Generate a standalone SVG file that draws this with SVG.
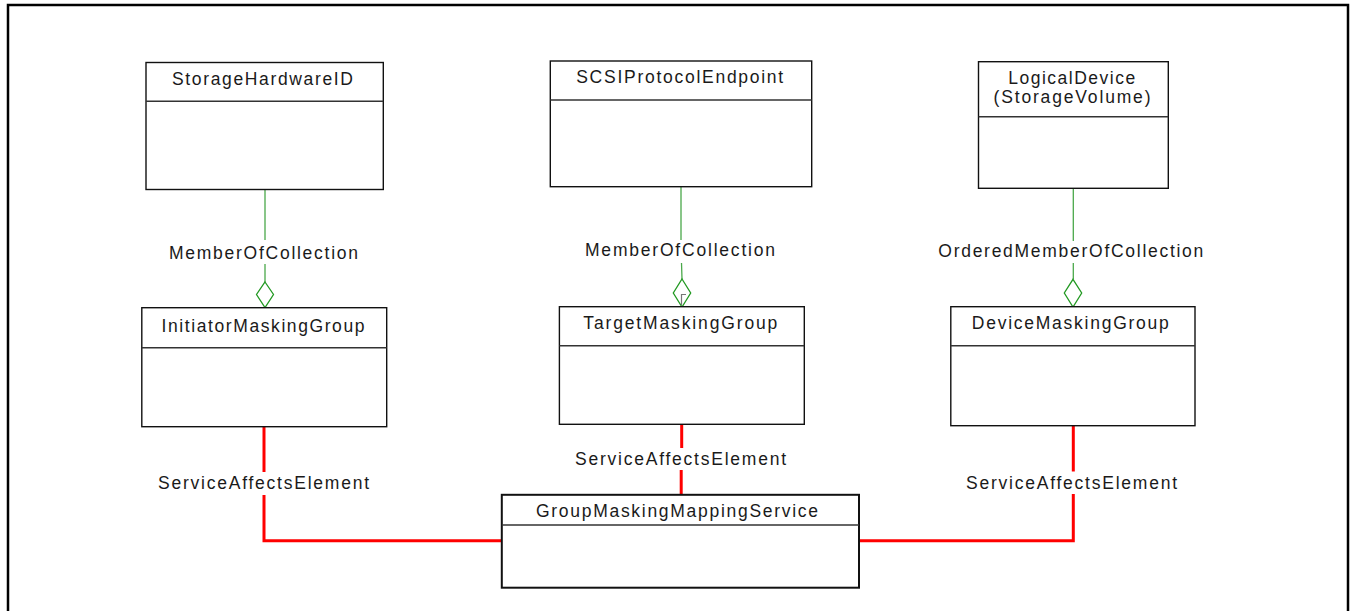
<svg xmlns="http://www.w3.org/2000/svg" width="1353" height="611" viewBox="0 0 1353 611">
<style>
.box{fill:#fff;stroke:#111;stroke-width:1.4}
.boxb{fill:#fff;stroke:#111;stroke-width:2}
.div{stroke:#333;stroke-width:1.4}
.t{font-family:"Liberation Sans",Arial,sans-serif;font-size:17.5px;fill:#1a1a1a;text-anchor:middle}
.g{stroke:#4aa84a;stroke-width:1.3;fill:none}
.dia{stroke:#229922;stroke-width:1.3;fill:#fff}
.r{stroke:#ff0000;stroke-width:3;fill:none}
</style>
<rect x="0" y="0" width="1353" height="611" fill="#fff"/>
<rect x="8" y="5" width="1340" height="640" fill="none" stroke="#000" stroke-width="2.5"/>

<g id="connectors">
  <!-- green MemberOfCollection left -->
  <line class="g" x1="265" y1="190" x2="265" y2="240"/>
  <line class="g" x1="265" y1="264" x2="265" y2="282"/>
  <polygon class="dia" points="265,282 273.5,294.5 265,307.5 256.5,294.5"/>
  <text class="t" x="263.5" y="259" textLength="189" lengthAdjust="spacing">MemberOfCollection</text>
  <!-- green MemberOfCollection middle -->
  <line class="g" x1="681" y1="187" x2="681" y2="240"/>
  <line class="g" x1="681.5" y1="263" x2="682" y2="279"/>
  <polygon class="dia" points="682,279 690.7,293 682,307 673.3,293"/>
  <polyline points="681.5,305 681.5,294.5 686,294.5" fill="none" stroke="#777" stroke-width="1.2"/>
  <text class="t" x="680" y="256" textLength="190" lengthAdjust="spacing">MemberOfCollection</text>
  <!-- green OrderedMemberOfCollection right -->
  <line class="g" x1="1073.3" y1="188" x2="1073.3" y2="241"/>
  <line class="g" x1="1073.3" y1="263" x2="1073.3" y2="279.3"/>
  <polygon class="dia" points="1073,279.3 1081.7,293 1073,307 1064.3,293"/>
  <text class="t" x="1070.8" y="256.5" textLength="265" lengthAdjust="spacing">OrderedMemberOfCollection</text>

  <!-- red ServiceAffectsElement left -->
  <line class="r" x1="264" y1="427" x2="264" y2="472"/>
  <polyline class="r" points="264,495 264,540.7 502,540.7"/>
  <text class="t" x="263.5" y="489" textLength="211" lengthAdjust="spacing">ServiceAffectsElement</text>
  <!-- red middle -->
  <line class="r" x1="681.7" y1="424" x2="681.7" y2="448"/>
  <line class="r" x1="681.2" y1="470" x2="681.2" y2="495"/>
  <text class="t" x="680.5" y="465" textLength="211" lengthAdjust="spacing">ServiceAffectsElement</text>
  <!-- red right -->
  <line class="r" x1="1073.3" y1="426" x2="1073.3" y2="471.5"/>
  <polyline class="r" points="1073.3,494 1073.3,540.7 859,540.7"/>
  <text class="t" x="1071.5" y="489" textLength="211" lengthAdjust="spacing">ServiceAffectsElement</text>
</g>

<g id="StorageHardwareID">
  <rect class="box" x="146" y="62.5" width="237.3" height="127"/>
  <line class="div" x1="146" y1="101.3" x2="383.3" y2="101.3"/>
  <text class="t" x="262.5" y="85" textLength="181" lengthAdjust="spacing">StorageHardwareID</text>
</g>

<g id="SCSIProtocolEndpoint">
  <rect class="box" x="550.3" y="61" width="261.4" height="125.7"/>
  <line class="div" x1="550.3" y1="100" x2="811.7" y2="100"/>
  <text class="t" x="679.7" y="82.5" textLength="207" lengthAdjust="spacing">SCSIProtocolEndpoint</text>
</g>

<g id="LogicalDevice">
  <rect class="box" x="978.5" y="61.7" width="189.8" height="126.6"/>
  <line class="div" x1="978.5" y1="116.7" x2="1168.3" y2="116.7"/>
  <text class="t" x="1071.7" y="84" textLength="127" lengthAdjust="spacing">LogicalDevice</text>
  <text class="t" x="1072" y="103" textLength="157" lengthAdjust="spacing">(StorageVolume)</text>
</g>

<g id="InitiatorMaskingGroup">
  <rect class="box" x="141.8" y="307.7" width="244.9" height="119"/>
  <line class="div" x1="141.8" y1="347.7" x2="386.7" y2="347.7"/>
  <text class="t" x="263" y="332" textLength="203" lengthAdjust="spacing">InitiatorMaskingGroup</text>
</g>

<g id="TargetMaskingGroup">
  <rect class="box" x="559.4" y="306.7" width="244.9" height="117.6"/>
  <line class="div" x1="559.4" y1="345.7" x2="804.3" y2="345.7"/>
  <text class="t" x="680.3" y="329" textLength="194" lengthAdjust="spacing">TargetMaskingGroup</text>
</g>

<g id="DeviceMaskingGroup">
  <rect class="box" x="950.8" y="306.7" width="244.2" height="119"/>
  <line class="div" x1="950.8" y1="345.7" x2="1195" y2="345.7"/>
  <text class="t" x="1070.3" y="329" textLength="197" lengthAdjust="spacing">DeviceMaskingGroup</text>
</g>

<g id="GroupMaskingMappingService">
  <rect class="boxb" x="501.8" y="494.8" width="357.2" height="92.9"/>
  <line class="div" x1="501.8" y1="525" x2="859" y2="525" stroke-width="1.8"/>
  <text class="t" x="677" y="517" textLength="282" lengthAdjust="spacing">GroupMaskingMappingService</text>
</g>
</svg>
